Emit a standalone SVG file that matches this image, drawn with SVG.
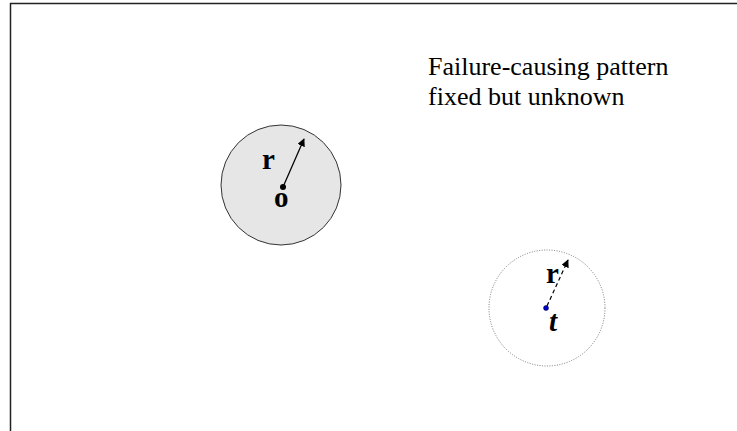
<svg xmlns="http://www.w3.org/2000/svg" width="737" height="431" viewBox="0 0 737 431">
<style>
.lbl{font-family:"Liberation Serif",serif;font-size:29px;font-weight:bold;fill:#000}
.cap{font-family:"Liberation Serif",serif;font-size:26px;fill:#000}
</style>
<defs>
<marker id="ah" viewBox="0 0 10 10" refX="9" refY="5" markerWidth="8" markerHeight="8" orient="auto" markerUnits="userSpaceOnUse">
<path d="M0,0 L10,5 L0,10 z" fill="#000"/>
</marker>
</defs>
<rect width="737" height="431" fill="#fff"/>
<path d="M10.5,431 V3.5 H737" fill="none" stroke="#222" stroke-width="1.5"/>
<g id="caption">
<text class="cap" x="428" y="75">Failure-causing pattern</text>
<text class="cap" x="428" y="105">fixed but unknown</text>
</g>
<g id="pattern">
<circle cx="281" cy="185" r="60" fill="#e6e6e6" stroke="#333" stroke-width="1"/>
<circle cx="283" cy="187" r="3" fill="#000"/>
<text class="lbl" x="262" y="169">r</text>
<text class="lbl" x="274" y="207">o</text>
</g>
<g id="test">
<circle cx="547" cy="308" r="58" fill="none" stroke="#777" stroke-width="1" stroke-dasharray="1,1.5"/>
<circle cx="546" cy="308" r="2.5" fill="#00c" stroke="#003" stroke-width="0.5"/>
<text class="lbl" x="546" y="283">r</text>
<text class="lbl" x="549" y="331" font-style="italic">t</text>
</g>
<g id="connectors">
<line x1="283" y1="187" x2="304" y2="139" stroke="#000" stroke-width="1.2" marker-end="url(#ah)"/>
<line x1="547" y1="306" x2="568" y2="260" stroke="#000" stroke-width="1.2" stroke-dasharray="4,3" marker-end="url(#ah)"/>
</g>
</svg>
